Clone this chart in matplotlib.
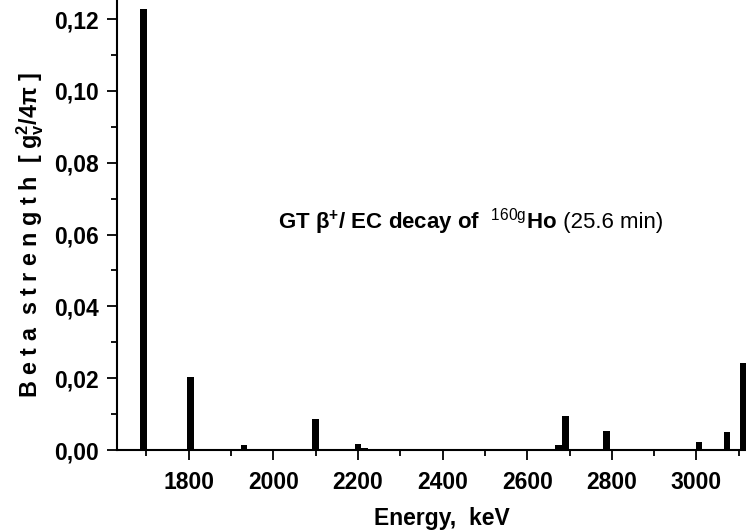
import matplotlib
matplotlib.use("Agg")
import matplotlib.pyplot as plt
from matplotlib.ticker import MultipleLocator

plt.rcParams['font.family'] = ['Liberation Sans', 'DejaVu Sans']
plt.rcParams['mathtext.fontset'] = 'custom'
plt.rcParams['mathtext.rm'] = 'Liberation Sans'
plt.rcParams['mathtext.bf'] = 'Liberation Sans:bold'
plt.rcParams['mathtext.it'] = 'Liberation Sans:italic'

# Data (energy in keV, GT strength in g_v^2/4pi)
energy = [1694, 1804, 1931, 2100, 2200, 2215, 2674, 2691, 2788, 3006, 3072, 3110]
strength = [0.1227, 0.0203, 0.0013, 0.0085, 0.0016, 0.0006,
            0.0014, 0.0095, 0.0054, 0.0023, 0.0051, 0.0243]

x_ticks = [1800, 2000, 2200, 2400, 2600, 2800, 3000]
x_tick_labels = ["1800", "2000", "2200", "2400", "2600", "2800", "3000"]
y_ticks = [0.00, 0.02, 0.04, 0.06, 0.08, 0.10, 0.12]
y_tick_labels = ["0,00", "0,02", "0,04", "0,06", "0,08", "0,10", "0,12"]

fig = plt.figure(figsize=(7.46, 5.30), dpi=100)
ax = fig.add_axes([0.1564, 0.1509, 0.8436, 0.8491])

ax.bar(energy, strength, width=16, color='black', align='center')

ax.set_xlim(1630, 3117)
ax.set_ylim(0, 0.1253)

ax.set_xticks(x_ticks)
ax.set_xticklabels(x_tick_labels, fontsize=16.5, fontweight='bold')
ax.set_yticks(y_ticks)
ax.set_yticklabels(y_tick_labels, fontsize=16.5, fontweight='bold')
ax.xaxis.set_minor_locator(MultipleLocator(100))
ax.yaxis.set_minor_locator(MultipleLocator(0.01))

ax.tick_params(which='major', direction='out', length=7, width=1.3, pad=6)
ax.tick_params(which='minor', direction='out', length=4, width=1.3)
ax.tick_params(axis='x', which='major', pad=8)

for s in ['top', 'right']:
    ax.spines[s].set_visible(False)
for s in ['left', 'bottom']:
    ax.spines[s].set_linewidth(1.5)

ax.set_xlabel("Energy,  keV", fontsize=16.5, fontweight='bold')
ax.xaxis.set_label_coords(0.516, -0.127)

ax.set_ylabel(r"B e t a  s t r e n g t h  [ g$_{\mathbf{v}}^{\mathbf{2}}$/4π ]",
              fontsize=16.8, fontweight='bold')
ax.yaxis.set_label_coords(-0.113, 0.478)

t1 = ax.text(2011, 0.0618, r"GT β$^{\mathbf{+}}$/ EC decay of  $^{\mathrm{160g}}$Ho",
             fontsize=16, fontweight='bold', va='baseline', ha='left')
fig.canvas.draw()
bb = t1.get_window_extent(renderer=fig.canvas.get_renderer())
x_end = ax.transData.inverted().transform((bb.x1, bb.y0))[0]
ax.text(x_end, 0.0618, " (25.6 min)", fontsize=16, va='baseline', ha='left')

fig.savefig("out.png", dpi=100)
